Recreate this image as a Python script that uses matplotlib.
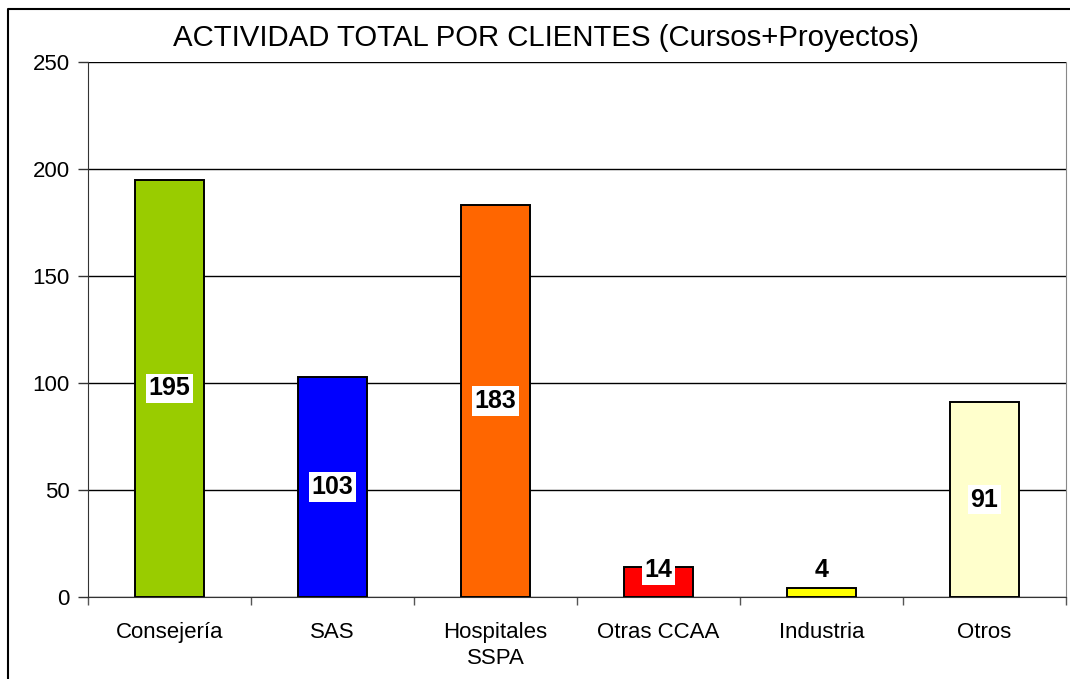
import matplotlib.pyplot as plt
from matplotlib.lines import Line2D

# data
categories = ["Consejería", "SAS", "Hospitales\nSSPA", "Otras CCAA", "Industria", "Otros"]
values = [195, 103, 183, 14, 4, 91]
colors = ["#99CC00", "#0000FF", "#FF6600", "#FF0000", "#FFFF00", "#FFFFCC"]
title = "ACTIVIDAD TOTAL POR CLIENTES (Cursos+Proyectos)"

plt.rcParams['font.family'] = ['Liberation Sans', 'DejaVu Sans']

fig = plt.figure(figsize=(10.70, 6.79), dpi=100)
ax = fig.add_axes([88 / 1070, 1 - 597 / 679, (1066 - 88) / 1070, (597 - 62) / 679])

x = list(range(len(categories)))
ax.bar(x, values, width=0.42, color=colors, edgecolor='black', linewidth=1.4, zorder=3)

# value labels, centred in each bar (small bars get a minimum height)
for xi, v in zip(x, values):
    ypos = max(v / 2, 12.6)
    ax.text(xi, ypos, str(v), ha='center', va='center', fontsize=18, fontweight='bold',
            bbox=dict(facecolor='white', edgecolor='none', pad=2), zorder=4)

ax.set_xlim(-0.5, len(categories) - 0.5)
ax.set_ylim(0, 250)
ax.set_yticks([0, 50, 100, 150, 200, 250])
ax.yaxis.grid(True, color='black', linewidth=1.0, zorder=0)
ax.set_axisbelow(True)

ax.set_xticks(x)
ax.set_xticklabels(categories, fontsize=16, linespacing=1.3)
ax.set_xticks([i - 0.5 for i in range(len(categories) + 1)], minor=True)
ax.tick_params(axis='x', which='major', length=0, pad=18)
ax.tick_params(axis='x', which='minor', length=6, width=1, color='#555555')
ax.tick_params(axis='y', length=7, width=1, labelsize=16, pad=6, color='#333333')

ax.spines['top'].set_visible(False)
ax.spines['right'].set_color('#888888')
ax.spines['left'].set_color('#333333')
ax.spines['bottom'].set_color('#333333')

fig.text(546 / 1070, 1 - 38 / 679, title, ha='center', va='center', fontsize=21.2)

# outer chart border (left and top visible)
fig.add_artist(Line2D([8 / 1070, 8 / 1070, 1.0], [0.0, 1 - 9 / 679, 1 - 9 / 679],
                      transform=fig.transFigure, color='black', linewidth=1.5))

fig.savefig("out.png", dpi=100)
